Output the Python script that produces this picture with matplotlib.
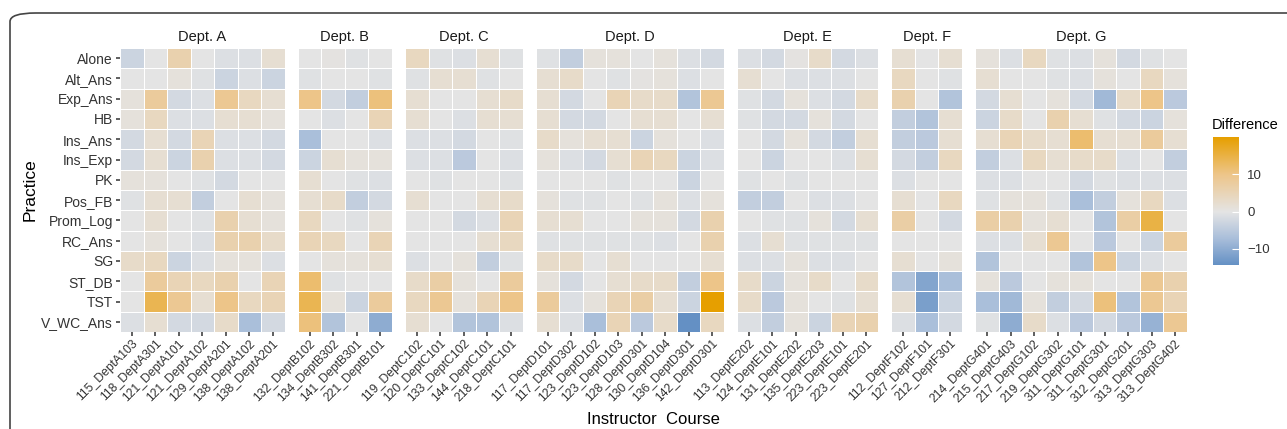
import numpy as np
import matplotlib.pyplot as plt
from matplotlib.colors import LinearSegmentedColormap, Normalize
from matplotlib.patches import FancyBboxPatch

plt.rcParams['font.family'] = ['Liberation Sans', 'DejaVu Sans']

practices = ['Alone', 'Alt_Ans', 'Exp_Ans', 'HB', 'Ins_Ans', 'Ins_Exp', 'PK',
             'Pos_FB', 'Prom_Log', 'RC_Ans', 'SG', 'ST_DB', 'TST', 'V_WC_Ans']

depts = ['Dept. A', 'Dept. B', 'Dept. C', 'Dept. D', 'Dept. E', 'Dept. F', 'Dept. G']

courses_a = ['115_DeptA103', '118_DeptA301', '121_DeptA101', '121_DeptA102',
             '129_DeptA201', '138_DeptA102', '138_DeptA201']
courses_b = ['132_DeptB102', '134_DeptB302', '141_DeptB301', '221_DeptB101']
courses_c = ['119_DeptC102', '120_DeptC101', '133_DeptC102', '144_DeptC101', '218_DeptC101']
courses_d = ['117_DeptD101', '117_DeptD302', '123_DeptD102', '123_DeptD103',
             '128_DeptD301', '130_DeptD104', '136_DeptD301', '142_DeptD301']
courses_e = ['113_DeptE202', '124_DeptE101', '131_DeptE202', '135_DeptE203',
             '223_DeptE101', '223_DeptE201']
courses_f = ['112_DeptF102', '127_DeptF101', '212_DeptF301']
courses_g = ['214_DeptG401', '215_DeptG403', '217_DeptG102', '219_DeptG302',
             '311_DeptG101', '311_DeptG301', '312_DeptG201', '313_DeptG303', '313_DeptG402']

# rows follow `practices`, columns follow the course list
diff_a = [[-3, 0, 6, 0, -1, -1, 2],
          [0, 0, 1, -0.5, -3, -1, -3],
          [1, 8, -2, -1, 9, 4, 2],
          [1, 4, -1, -1, 2, 2, 1],
          [-2, 2, -2, 5, -1, -1, -2],
          [-2, 2, -3, 6, -1, -1, -2],
          [1, 1, 0, -0.5, -2, 0, 0],
          [-0.5, 2, 2, -4, 0, 2, 1],
          [0, 2, 0, -0.5, 6, 2, 1],
          [0, 1, 0, -1, 6, 6, 3],
          [3, 4, -3, -1, 1, 1, -1],
          [0, 8, 5, 4, 6, 0, 5],
          [0, 14, 9, 2, 10, 4, 5],
          [-1, 2, -2, -2, 3, -7, -2]]
diff_b = [[0, 0.5, -0.5, 0],
          [-0.5, 0, 0, -0.5],
          [10, -2, -4, 11],
          [0, -1, 0, 5],
          [-7, 0, 0, -1],
          [-3, 2, 1, 1],
          [2, 0, -0.5, -1],
          [2, 3, -4, -2],
          [4, 0, -0.5, 1],
          [5, 4, 0, 5],
          [0, 1, 1, 2],
          [12, -0.5, 0, 0],
          [14, 1, -3, 8],
          [11, -6, 0, -10]]
diff_c = [[4, -0.5, -1, 2, -0.5],
          [-0.5, 2, 2, -0.5, 0],
          [2, 0, 0, 2, 3],
          [2, 0, -1, 2, 2],
          [-1, -1, -2, 0, -0.5],
          [-1, -1, -5, 0, -1],
          [0, -0.5, 0, 0, -0.5],
          [2, 0, 0, 2, 3],
          [0, 0, -2, -1, 5],
          [0, 0, 0, 2, 4],
          [-1, 0, 1, -4, -0.5],
          [3, 7, 1, 0, 8],
          [4, 9, 1, 5, 10],
          [2, 0, -6, -6, -1]]
diff_d = [[-0.5, -4, 1, 1, 0, 1, -1, -2],
          [2, 3, 0, -0.5, 0.5, 1, -1, 0],
          [2, -2, 0, 5, 3, 3, -6, 9],
          [2, -2, -2, 0, 2, 2, 0, 2],
          [3, 1, 2, 2, -3, 1, 0, -1],
          [1, -1, -2, 2, 5, 4, -3, -1],
          [0, 0, 0, -0.5, 0, 0, -3, 0],
          [1, -0.5, -0.5, 0, -0.5, 1, -1, 1],
          [2, 2, 0, 0, 1, 1, -2, 6],
          [-0.5, -0.5, -0.5, -0.5, -0.5, -1, 0, 6],
          [3, 3, 0, 2, 0, 0, 0, 2],
          [1, -2, 0, 2, 3, 3, -4, 10],
          [8, -1, 1, 5, 7, 2, -3, 20],
          [2, -1, -7, 5, -5, 3, -14.3, 4]]
diff_e = [[-1, -2, 0.5, 3, -2, -1],
          [2, 0, -1, -1, -1, 0],
          [-0.5, -2, 1, -1, -2, 3],
          [-0.5, -2, -2, 1, -2, 0],
          [0, -2, 1, -2, -4, 2],
          [0, -3, 0, 0, -1, 2],
          [-0.5, 0, -0.5, 0, 0, 0],
          [-4, -4, 0, -1, -1, 0],
          [0, -0.5, -0.5, 1, -2, 2],
          [-1, 2, -0.5, -0.5, -0.5, -0.5],
          [-1, -1, 1, -1, -1, 0],
          [3, -3, 1, 3, 0, 3],
          [3, -5, 1, 0, -0.5, 2],
          [-1, -4, 1, -3, 5, 6]]
diff_f = [[2, 0, 2],
          [4, 0, -0.5],
          [6, 0, -6],
          [-4, -6, 2],
          [-4, -5, 2],
          [-2, -4, 4],
          [-1, 0, 0],
          [2, 0, 4],
          [7, 0, -2],
          [0, 0, 0],
          [2, 0, 1],
          [-6, -11, -7],
          [2, -12, -3],
          [-1, -7, -2]]
diff_g = [[1, -1, 4, -0.5, -1, 1, -2, -0.5, 0],
          [2, 0, 0, -0.5, -1, 1, 0, 4, 1],
          [-2, 2, 0, 1, -2, -8, 3, 10, -5],
          [-3, 3, 0, 6, 2, -0.5, -2, -3, 1],
          [2, 5, 3, 2, 12, 2, 2, 8, 2],
          [-4, -1, 4, 2, 3, 3, -1, 0, -4],
          [-1, -1, 0, 0, -2, -0.5, -1, -1, -1],
          [-0.5, 1, 1, -0.5, -7, -4, 1, 4, -1],
          [7, 6, 1, 2, 0, -6, 7, 15, 0],
          [-1, -1, 2, 9, 0, -5, 0, -3, 8],
          [-6, 0, 0, 0, -6, 10, -3, -1, 0],
          [1, -5, 0, 1, 1, 0, 0, 9, 6],
          [-7, -8, 1, -4, -2, 11, -6, 9, 5],
          [-0.5, -10, 3, -1, -5, -2, -5, -9, 9]]

all_courses = [courses_a, courses_b, courses_c, courses_d, courses_e, courses_f, courses_g]
all_diffs = [diff_a, diff_b, diff_c, diff_d, diff_e, diff_f, diff_g]

W, H = 1287, 429
fig = plt.figure(figsize=(W / 100, H / 100), dpi=100)

vmin = min(np.min(d) for d in all_diffs)
vmax = max(np.max(d) for d in all_diffs)
mid = -vmin / (vmax - vmin)
cmap = LinearSegmentedColormap.from_list(
    'diff', [(0, '#6490C4'), (mid * 0.5, '#A9BEDA'), (mid, '#E4E4E4'),
             (mid + (1 - mid) * 0.5, '#EDC58A'), (1, '#E69F00')])
norm = Normalize(vmin, vmax)

# rounded frame around the whole figure
fig.patches.append(FancyBboxPatch((10 / W, -0.1), 1.2, 1 - 13 / H + 0.1,
                                  boxstyle='round,pad=0,rounding_size=0.02',
                                  transform=fig.transFigure, fill=False,
                                  edgecolor='#444444', linewidth=1.2))

x0, cell_w, gap = 120, 23.5, 13.3
top, bot = 48, 332
tick_col = '#333333'
x = x0
mesh = None
for i, (dept, courses, vals) in enumerate(zip(depts, all_courses, all_diffs)):
    n = len(courses)
    ax = fig.add_axes([x / W, 1 - bot / H, n * cell_w / W, (bot - top) / H])
    mesh = ax.pcolormesh(np.arange(n + 1), np.arange(len(practices) + 1), np.array(vals),
                         cmap=cmap, norm=norm, edgecolor='white', linewidth=0.7)
    ax.set_xlim(0, n)
    ax.set_ylim(len(practices), 0)
    for s in ax.spines.values():
        s.set_visible(False)
    ax.set_xticks(np.arange(n) + 0.5)
    ax.set_xticklabels(courses, rotation=45, ha='right', va='top', rotation_mode='anchor',
                       fontsize=8.8, color=tick_col)
    ax.set_yticks(np.arange(len(practices)) + 0.5)
    if i == 0:
        ax.set_yticklabels(practices, fontsize=10, color=tick_col)
    else:
        ax.tick_params(axis='y', left=False, labelleft=False)
    ax.tick_params(length=3, width=1.1, color=tick_col, pad=2)
    ax.tick_params(axis='x', pad=1)
    ax.set_title(dept, fontsize=10.5, color='#1A1A1A', pad=5)
    x += n * cell_w + gap

fig.text(30 / W, 1 - 190 / H, 'Practice', rotation=90, ha='center', va='center',
         fontsize=12.5, color='black')
fig.text(653 / W, 1 - 420 / H, 'Instructor  Course', ha='center', va='center',
         fontsize=12, color='black')

# colour bar
cax = fig.add_axes([1213 / W, 1 - 265 / H, 26 / W, 128 / H])
cb = fig.colorbar(mesh, cax=cax, ticks=[-10, 0, 10])
cb.outline.set_visible(False)
cax.tick_params(direction='in', length=5, width=0.8, color='white', labelsize=9.5,
                labelcolor=tick_col, pad=6)
cax.set_title('Difference', fontsize=10.5, loc='left', pad=6, x=-0.05)

fig.savefig('out.png', dpi=100)
